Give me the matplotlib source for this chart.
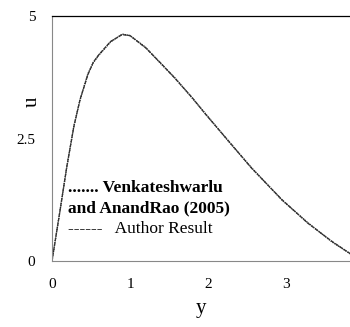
import matplotlib.pyplot as plt

# velocity profile
y_ven = [0.0, 0.1, 0.19, 0.28, 0.36, 0.46, 0.53, 0.6, 0.75, 0.9, 1.0, 1.2, 1.4, 1.58, 1.8,
         1.96, 2.28, 2.56, 2.95, 3.28, 3.59, 3.85]
u_ven = [0.0, 1.0, 1.92, 2.75, 3.29, 3.82, 4.05, 4.2, 4.47, 4.63, 4.6, 4.36, 4.02, 3.73,
         3.32, 3.02, 2.41, 1.9, 1.24, 0.78, 0.39, 0.12]
y_auth = y_ven
u_auth = [0.0, 1.0, 1.93, 2.74, 3.3, 3.8, 4.06, 4.21, 4.48, 4.62, 4.6, 4.35, 4.03, 3.72,
          3.33, 3.01, 2.42, 1.89, 1.25, 0.77, 0.4, 0.12]

plt.rcParams['font.family'] = ['Liberation Serif', 'DejaVu Serif']

fig = plt.figure(figsize=(3.5, 3.27), dpi=100)
ax = fig.add_axes([52/350, 1 - 261/327, 1 - 52/350, 245/327])

ax.plot(y_ven, u_ven, color='#222222', lw=1.0, ls=(0, (1, 0.6)))
ax.plot(y_auth, u_auth, color='#333333', lw=0.9, ls=(0, (3, 1)))

ax.set_xlim(0, 3.82)
ax.set_ylim(0, 5)
ax.set_xticks([0, 1, 2, 3])
ax.set_yticks([0, 2.5, 5])
ax.set_yticklabels(['0', '2.5', '5'])
ax.tick_params(length=0, labelsize=11, pad=12)

for s in ['left', 'bottom']:
    ax.spines[s].set_color('#888888')
    ax.spines[s].set_linewidth(0.8)
ax.spines['top'].set_linewidth(0.9)
ax.spines['right'].set_visible(False)

ax.set_xlabel('y', fontsize=15, labelpad=6)
ax.set_ylabel('u', fontsize=15, rotation=90)
ax.yaxis.set_label_coords(-0.035, 0.65)

ax.text(0.2, 1.5, '....... Venkateshwarlu', fontsize=12.5, fontweight='bold', va='center')
ax.text(0.2, 1.08, 'and AnandRao (2005)', fontsize=12.5, fontweight='bold', va='center')
ax.text(0.2, 0.66, '------   Author Result', fontsize=12.5, va='center')

fig.savefig('out.png', dpi=100)
